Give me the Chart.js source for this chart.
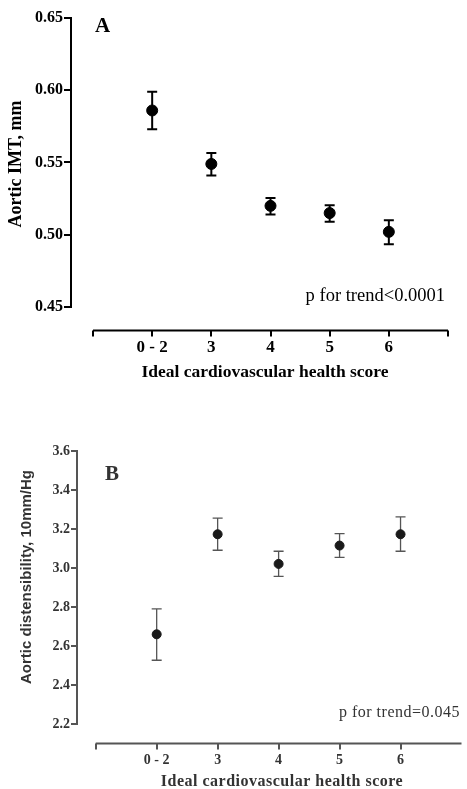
<!DOCTYPE html>
<html>
<head>
<meta charset="utf-8">
<script src="https://cdn.jsdelivr.net/npm/chart.js@4.4.1/dist/chart.umd.min.js"></script>
<style>
  body { margin: 0; background: #fff; }
  .panel { position: absolute; left: 0; width: 467px; }
  #panel-a { top: 0; height: 400px; }
  #panel-b { top: 420px; height: 369px; }
</style>
</head>
<body>
<div class="panel" id="panel-a"><canvas id="chart-a" width="467" height="400"></canvas></div>
<div class="panel" id="panel-b"><canvas id="chart-b" width="467" height="369"></canvas></div>
<script>
// Ideal cardiovascular health score groups
const categories = ['0 - 2', '3', '4', '5', '6'];

// Panel A: aortic IMT (mm), mean with error bar ends
const imtMean = [0.586, 0.549, 0.520, 0.515, 0.502];
const imtUpper = [0.599, 0.5565, 0.5255, 0.5205, 0.510];
const imtLower = [0.573, 0.541, 0.514, 0.509, 0.4935];
const imtTicks = [0.45, 0.50, 0.55, 0.60, 0.65];

// Panel B: aortic distensibility (10mm/Hg)
const distMean = [2.66, 3.173, 3.021, 3.115, 3.173];
const distUpper = [2.79, 3.256, 3.086, 3.176, 3.262];
const distLower = [2.527, 3.091, 2.957, 3.055, 3.086];
const distTicks = [2.2, 2.4, 2.6, 2.8, 3.0, 3.2, 3.4, 3.6];

const SERIF = '"Liberation Serif", "Times New Roman", serif';
const SANS = '"Liberation Sans", Arial, sans-serif';

function points(means) {
    return means.map((v, i) => ({ x: i + 1, y: v }));
}

// error bars drawn behind the markers
const errorBars = {
    id: 'errorBars',
    beforeDatasetsDraw(chart, args, opts) {
        const { ctx, scales: { x, y } } = chart;
        ctx.save();
        ctx.strokeStyle = opts.color;
        ctx.lineWidth = opts.width;
        opts.upper.forEach((hi, i) => {
            const px = x.getPixelForValue(i + 1);
            const yHi = y.getPixelForValue(hi);
            const yLo = y.getPixelForValue(opts.lower[i]);
            ctx.beginPath();
            ctx.moveTo(px, yHi);
            ctx.lineTo(px, yLo);
            ctx.moveTo(px - opts.cap, yHi);
            ctx.lineTo(px + opts.cap, yHi);
            ctx.moveTo(px - opts.cap, yLo);
            ctx.lineTo(px + opts.cap, yLo);
            ctx.stroke();
        });
        ctx.restore();
    }
};

// detached x axis line (GraphPad style), plus titles and notes
const decorations = {
    id: 'decorations',
    afterDraw(chart, args, opts) {
        const { ctx, chartArea, scales: { x, y } } = chart;
        ctx.save();
        const ay = Math.round(chartArea.bottom + opts.axisGap) + 0.5;
        ctx.strokeStyle = opts.axisColor;
        ctx.lineWidth = 2;
        ctx.beginPath();
        ctx.moveTo(x.getPixelForValue(0), ay);
        ctx.lineTo(x.getPixelForValue(6), ay);
        opts.tickAt.forEach(v => {
            const px = Math.round(x.getPixelForValue(v));
            ctx.moveTo(px, ay);
            ctx.lineTo(px, ay + 6);
        });
        ctx.stroke();

        opts.texts.forEach(t => {
            ctx.save();
            ctx.font = t.font;
            ctx.fillStyle = t.color;
            ctx.textAlign = t.align || 'left';
            ctx.textBaseline = 'middle';
            if (t.spacing) ctx.letterSpacing = t.spacing;
            ctx.translate(t.x, t.y);
            if (t.rotate) ctx.rotate(t.rotate);
            ctx.fillText(t.text, 0, 0);
            ctx.restore();
        });
        ctx.restore();
    }
};

function makeConfig(p) {
    return {
        type: 'scatter',
        data: {
            datasets: [{
                data: points(p.mean),
                backgroundColor: p.pointColor,
                borderColor: p.pointColor,
                pointRadius: p.radius,
                pointHoverRadius: p.radius
            }]
        },
        options: {
            responsive: false,
            animation: false,
            layout: { padding: { top: p.top, right: p.right, left: 0, bottom: 0 } },
            plugins: {
                legend: { display: false },
                tooltip: { enabled: false },
                errorBars: { upper: p.upper, lower: p.lower, color: p.barColor, width: p.barWidth, cap: 5 },
                decorations: { axisGap: p.axisGap, axisColor: p.axisColor, tickAt: p.tickAt, texts: p.texts }
            },
            scales: {
                x: {
                    type: 'linear',
                    min: p.xMin,
                    max: 6,
                    afterFit: s => { s.height = p.xHeight; },
                    afterBuildTicks: s => { s.ticks = categories.map((c, i) => ({ value: i + 1 })); },
                    grid: { display: false, drawTicks: false },
                    border: { display: false },
                    ticks: {
                        autoSkip: false,
                        maxRotation: 0,
                        padding: p.xPad,
                        color: p.textColor,
                        font: { family: SERIF, size: p.xTickSize, weight: 'bold' },
                        callback: v => categories[v - 1] ?? ''
                    }
                },
                y: {
                    min: p.yTicks[0],
                    max: p.yTicks[p.yTicks.length - 1],
                    afterFit: s => { s.width = p.yWidth; },
                    afterBuildTicks: s => { s.ticks = p.yTicks.map(v => ({ value: v })); },
                    grid: {
                        drawOnChartArea: false,
                        drawTicks: true,
                        tickLength: p.tickLen,
                        color: p.axisColor,
                        lineWidth: 2
                    },
                    border: { display: true, color: p.axisColor, width: 2 },
                    ticks: {
                        padding: 1,
                        color: p.textColor,
                        font: { family: SERIF, size: p.yTickSize, weight: 'bold' },
                        callback: v => v.toFixed(p.decimals)
                    }
                }
            }
        },
        plugins: [errorBars, decorations]
    };
}

new Chart(document.getElementById('chart-a'), makeConfig({
    mean: imtMean, upper: imtUpper, lower: imtLower, yTicks: imtTicks, decimals: 2,
    pointColor: '#000', radius: 5.5, barColor: '#000', barWidth: 2,
    axisColor: '#000', textColor: '#000', xTickSize: 17, yTickSize: 16, tickLen: 7,
    top: 18, right: 19, yWidth: 71, xHeight: 93, xMin: -0.372, xPad: 30, axisGap: 23,
    tickAt: [0, 1, 2, 3, 4, 5, 6],
    texts: [
        { text: 'A', x: 95, y: 27, font: 'bold 21px ' + SERIF, color: '#000' },
        { text: 'p for trend<0.0001', x: 445, y: 296, align: 'right', font: '18.5px ' + SERIF, color: '#000' },
        { text: 'Ideal cardiovascular health score', x: 265, y: 372, align: 'center', font: 'bold 17.5px ' + SERIF, color: '#000' },
        { text: 'Aortic IMT, mm', x: 16, y: 164, align: 'center', rotate: -Math.PI / 2, font: 'bold 18px ' + SERIF, color: '#000' }
    ]
}));

new Chart(document.getElementById('chart-b'), makeConfig({
    mean: distMean, upper: distUpper, lower: distLower, yTicks: distTicks, decimals: 1,
    pointColor: '#1a1a1a', radius: 4.5, barColor: '#555', barWidth: 1.3,
    axisColor: '#555', textColor: '#333', xTickSize: 14, yTickSize: 14, tickLen: 6,
    top: 31, right: 0, yWidth: 77, xHeight: 65, xMin: -0.307, xPad: 28, axisGap: 19,
    tickAt: [0, 1, 2, 3, 4, 5],
    texts: [
        { text: 'B', x: 105, y: 55, font: 'bold 21px ' + SERIF, color: '#333' },
        { text: 'p for trend=0.045', x: 460, y: 293, align: 'right', font: '16px ' + SERIF, color: '#333', spacing: '0.5px' },
        { text: 'Ideal cardiovascular health score', x: 282, y: 362, align: 'center', font: 'bold 16px ' + SERIF, color: '#333', spacing: '0.5px' },
        { text: 'Aortic distensibility, 10mm/Hg', x: 27, y: 157, align: 'center', rotate: -Math.PI / 2, font: 'bold 15px ' + SANS, color: '#333' }
    ]
}));
</script>
</body>
</html>
